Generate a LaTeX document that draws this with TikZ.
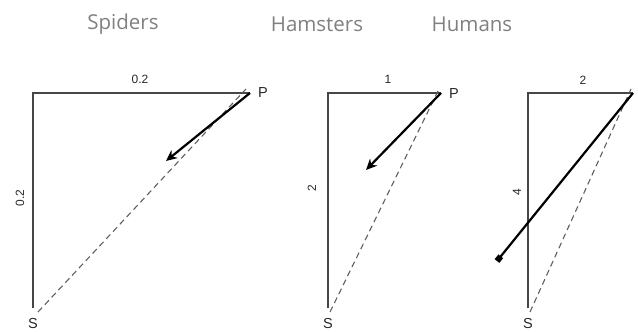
\documentclass[tikz,border=0pt]{standalone}
\usepackage{fontspec}
\setmainfont{Liberation Sans}
\newfontfamily\titlefont{Open Sans}
\usetikzlibrary{arrows.meta}
\definecolor{titlegray}{RGB}{128,128,128}
\definecolor{sidegray}{RGB}{70,70,70}
\definecolor{dashgray}{RGB}{95,95,95}
\definecolor{labelgray}{RGB}{40,40,40}
\tikzset{
  title/.style={font=\titlefont\fontsize{20.5}{24}\selectfont, text=titlegray, inner sep=0pt},
  side/.style={draw=sidegray, line width=1.3pt},
  diag/.style={draw=dashgray, line width=1.1pt, dash pattern=on 6pt off 4pt},
  vec/.style={draw=black, line width=2.2pt, -{Stealth[length=11pt,width=10pt]}},
  vecsq/.style={draw=black, line width=2.2pt, -{Square[length=6pt,width=6pt]}},
  num/.style={font=\fontsize{12}{14}\selectfont, text=labelgray, inner sep=0pt},
  pt/.style={font=\fontsize{14.5}{16}\selectfont, text=labelgray, inner sep=0pt},
}
\begin{document}
\begin{tikzpicture}[x=1pt,y=-1pt]
\useasboundingbox (0,0) rectangle (638,332);
% titles
\node[title] (t1) at (123,24) {Spiders};
\node[title] (t2) at (317,24) {Hamsters};
\node[title] (t3) at (472,24) {Humans};
% panel 1
\coordinate (c1) at (33,93);
\coordinate (p1) at (250,93);
\coordinate (s1) at (33,308);
\coordinate (h1) at (166,161);
\path[side] (s1) -- (c1) -- (p1);
\path[diag] ([xshift=5pt,yshift=-4pt]s1) -- ([xshift=-4pt,yshift=4pt]p1);
\path[vec] (p1) -- (h1);
\node[num] (n1a) at (140,79) {0.2};
\node[num, rotate=90] (n1b) at (20,198) {0.2};
\node[pt] (P1) at (263,93) {P};
\node[pt] (S1) at (33,324) {S};
% panel 2
\coordinate (c2) at (328,93);
\coordinate (p2) at (441,93);
\coordinate (s2) at (328,308);
\coordinate (h2) at (366,170);
\path[side] (s2) -- (c2) -- (p2);
\path[diag] ([xshift=2pt,yshift=-4pt]s2) -- ([xshift=-2pt,yshift=4pt]p2);
\path[vec] (p2) -- (h2);
\node[num] (n2a) at (388,79) {1};
\node[num, rotate=90] (n2b) at (312,188) {2};
\node[pt] (P2) at (454,94) {P};
\node[pt] (S2) at (328,324) {S};
% panel 3
\coordinate (c3) at (528,93);
\coordinate (p3) at (633,93);
\coordinate (s3) at (528,308);
\coordinate (h3) at (497,261);
\path[side] (s3) -- (c3) -- (p3);
\path[diag] ([xshift=2pt,yshift=-4pt]s3) -- ([xshift=-2pt,yshift=4pt]p3);
\path[vecsq] (p3) -- (h3);
\node[num] (n3a) at (583,80) {2};
\node[num, rotate=90] (n3b) at (517,192) {4};
\node[pt] (P3) at (646,94) {P};
\node[pt] (S3) at (528,324) {S};
\end{tikzpicture}
\end{document}
